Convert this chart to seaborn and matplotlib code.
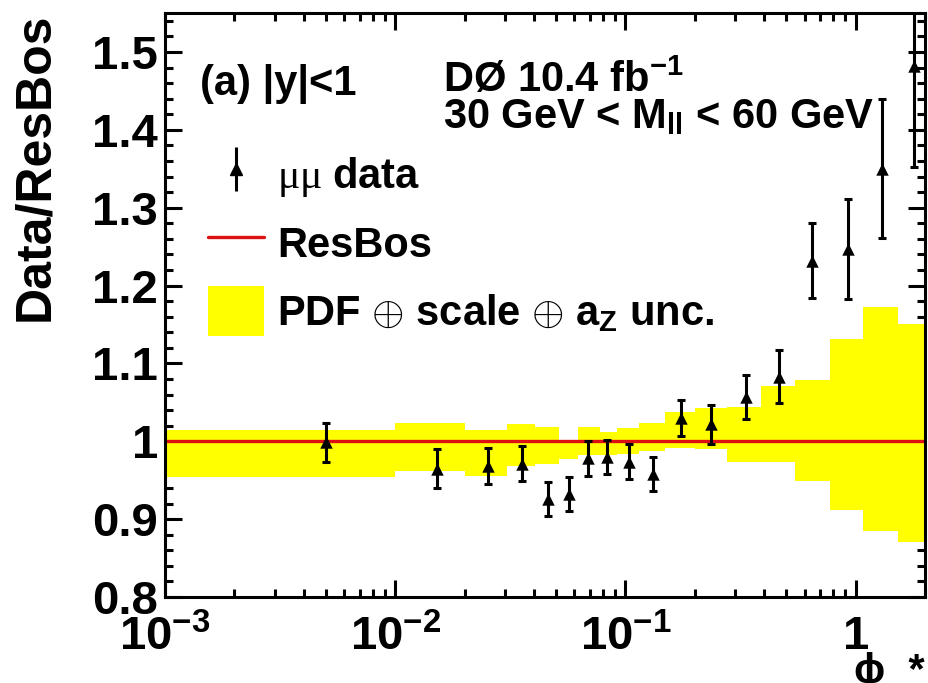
import numpy as np
import matplotlib
matplotlib.use("Agg")
import matplotlib.pyplot as plt
import seaborn as sns
from matplotlib.patches import Patch
from matplotlib.lines import Line2D
from matplotlib.ticker import FixedLocator, MultipleLocator, LogLocator, NullFormatter
from matplotlib.legend_handler import HandlerErrorbar
from matplotlib.container import ErrorbarContainer

# phi* bin centres and measured data / ResBos ratio (mu mu channel, |y|<1)
phistar = [0.005, 0.0152, 0.0252, 0.0356, 0.0461, 0.0568, 0.0689, 0.0832, 0.104,
           0.132, 0.175, 0.236, 0.333, 0.466, 0.649, 0.927, 1.306, 1.79]
ratio = [0.999, 0.965, 0.968, 0.971, 0.926, 0.932, 0.978, 0.980, 0.974,
         0.958, 1.030, 1.022, 1.057, 1.083, 1.232, 1.247, 1.350, 1.482]
ratio_err = [0.025, 0.0245, 0.0235, 0.0225, 0.0215, 0.0215, 0.022, 0.022, 0.022,
             0.0215, 0.023, 0.025, 0.028, 0.034, 0.048, 0.064, 0.089, 0.13]

# PDF + scale + a_Z uncertainty band on the ResBos prediction
band_edges = [0.001, 0.01, 0.02, 0.0306, 0.0406, 0.0513, 0.0621, 0.0778, 0.092, 0.114,
              0.149, 0.200, 0.277, 0.386, 0.543, 0.773, 1.08, 1.52, 2.0]
band_hi = [1.0146, 1.023, 1.0146, 1.022, 1.018, 1.002, 1.018, 1.0115, 1.017,
           1.023, 1.037, 1.043, 1.0445, 1.0705, 1.079, 1.131, 1.173, 1.150]
band_lo = [0.954, 0.962, 0.956, 0.968, 0.971, 0.977, 0.982, 0.982, 0.984,
           0.988, 0.991, 0.990, 0.974, 0.973, 0.949, 0.912, 0.885, 0.871]

resbos_level = 1.0

ytick_vals = [0.8, 0.9, 1.0, 1.1, 1.2, 1.3, 1.4, 1.5]
ytick_labels = ["0.8", "0.9", "1", "1.1", "1.2", "1.3", "1.4", "1.5"]
xtick_vals = [1e-3, 1e-2, 1e-1, 1.0]
xtick_labels = [r"$\mathbf{10^{-3}}$", r"$\mathbf{10^{-2}}$", r"$\mathbf{10^{-1}}$", "1"]

sns.set_theme(style="ticks")
plt.rcParams["font.family"] = ["Liberation Sans", "DejaVu Sans"]
plt.rcParams["font.weight"] = "bold"
plt.rcParams["mathtext.fontset"] = "custom"
plt.rcParams["mathtext.rm"] = "Liberation Serif"
plt.rcParams["mathtext.it"] = "Liberation Sans:bold"
plt.rcParams["mathtext.bf"] = "Liberation Sans:bold"
plt.rcParams["mathtext.sf"] = "Liberation Sans:bold"
for key in ("text.color", "axes.labelcolor", "xtick.color", "ytick.color",
            "xtick.labelcolor", "ytick.labelcolor", "axes.edgecolor"):
    plt.rcParams[key] = "black"
plt.rcParams["axes.linewidth"] = 2.2

fig = plt.figure(figsize=(9.29, 6.83), dpi=100)
fig.patch.set_facecolor("white")
ax = fig.add_axes([165 / 929, 86 / 683, 760 / 929, 584 / 683])
ax.set_facecolor("white")

# uncertainty band as a step histogram
lo_steps = band_lo + [band_lo[-1]]
hi_steps = band_hi + [band_hi[-1]]
ax.fill_between(band_edges, lo_steps, hi_steps, step="post",
                color="#ffff00", linewidth=0, zorder=1)

# ResBos reference line
ax.axhline(resbos_level, color="#dd1111", lw=2.4, zorder=2)

# data with error bars
ax.errorbar(phistar, ratio, yerr=ratio_err, fmt="none", ecolor="black",
            elinewidth=2.2, capsize=2.8, capthick=2.2, zorder=3)
sns.scatterplot(x=phistar, y=ratio, marker="^", s=80, color="black",
                edgecolor="black", linewidth=0, zorder=4, ax=ax, legend=False)

ax.set_xscale("log")
ax.set_xlim(1e-3, 2.0)
ax.set_ylim(0.8, 1.55)

ax.xaxis.set_major_locator(FixedLocator(xtick_vals))
ax.set_xticklabels(xtick_labels)
ax.xaxis.set_minor_locator(LogLocator(base=10, subs=np.arange(2, 10)))
ax.xaxis.set_minor_formatter(NullFormatter())
ax.yaxis.set_major_locator(FixedLocator(ytick_vals))
ax.set_yticklabels(ytick_labels)
ax.yaxis.set_minor_locator(MultipleLocator(0.02))

ax.tick_params(which="both", direction="in", top=True, right=True,
               width=2.2, color="black", labelsize=34, labelcolor="black")
ax.tick_params(which="major", length=12)
ax.tick_params(which="minor", length=6)
ax.tick_params(axis="y", which="major", pad=5)
ax.tick_params(axis="x", which="major", pad=13)
for spine in ax.spines.values():
    spine.set_linewidth(2.2)
    spine.set_color("black")

ax.set_ylabel("Data/ResBos", fontsize=36, fontweight="bold", loc="top")
ax.yaxis.set_label_coords(-0.14, 1.0)
ax.set_xlabel("\u03d5  *", fontsize=30, fontweight="bold", loc="right")
ax.xaxis.set_label_coords(1.0, -0.095)

# annotations
ax.text(0.046, 0.8596, "(a) |y|<1", fontsize=30, fontweight="bold",
        transform=ax.transAxes, va="baseline")
ax.text(0.366, 0.8647, r"DØ 10.4 fb$^{\mathbf{-1}}$", fontsize=30, fontweight="bold",
        transform=ax.transAxes, va="baseline")
ax.text(0.366, 0.803, r"30 GeV < M$_{\mathbf{ll}}$ < 60 GeV", fontsize=30,
        fontweight="bold", transform=ax.transAxes, va="baseline")

# legend
data_handle = ax.errorbar([], [], yerr=[], fmt="^", color="black", ms=8,
                          elinewidth=2.2, capsize=0)
line_handle = Line2D([], [], color="#dd1111", lw=2.4)
band_handle = Patch(facecolor="#ffff00", edgecolor="none")
leg = ax.legend([data_handle, line_handle, band_handle],
                [r"μμ $\mathbf{data}$", "ResBos",
                 r"PDF $\oplus$ scale $\oplus$ a$_{\mathbf{Z}}$ unc."],
                loc="upper left", bbox_to_anchor=(0.0566, 0.766), frameon=False,
                fontsize=30, handlelength=1.35, handleheight=1.47, handletextpad=0.3,
                labelspacing=0.44, borderaxespad=0.0, borderpad=0.0,
                handler_map={ErrorbarContainer: HandlerErrorbar(xerr_size=0.5, yerr_size=0.52)})
# the muon symbols are set in a light serif face, the word "data" stays bold sans
mu_text = leg.get_texts()[0]
mu_text.set_fontfamily("Liberation Serif")
mu_text.set_fontweight("normal")

fig.savefig("out.png", dpi=100)
